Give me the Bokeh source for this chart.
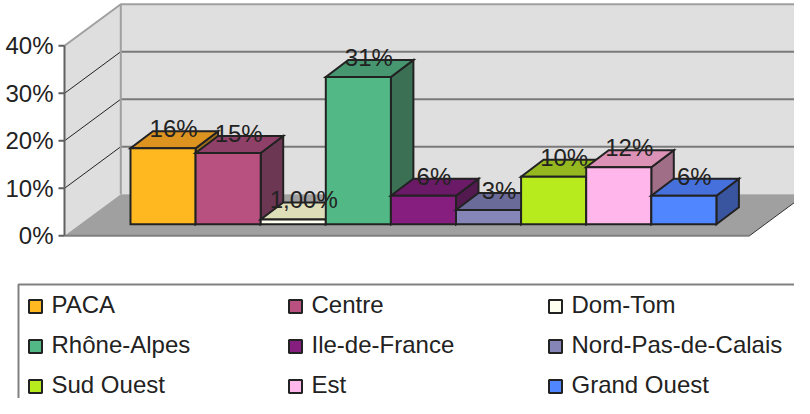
from bokeh.plotting import figure
from bokeh.models import Range1d, ColumnDataSource
from bokeh.core.properties import value
from bokeh.embed import file_html
from bokeh.resources import INLINE

# ---------------- data ----------------
regions = ["PACA", "Centre", "Dom-Tom", "Rhône-Alpes", "Ile-de-France",
           "Nord-Pas-de-Calais", "Sud Ouest", "Est", "Grand Ouest"]
shares = [16, 15, 1, 31, 6, 3, 10, 12, 6]
share_labels = ["16%", "15%", "1,00%", "31%", "6%", "3%", "10%", "12%", "6%"]
front_colors = ["#FFB81F", "#B85180", "#FFFFF0", "#52B886", "#861E80",
                "#8585B8", "#B8EB1E", "#FFB6EB", "#5086FF"]
top_colors = ["#DC9320", "#8F4068", "#DEDEB8", "#469670", "#6A1A66",
              "#6B6B99", "#96B81F", "#DC91B6", "#4670DB"]
side_colors = ["#A0701A", "#6B3753", "#B0B090", "#3B7055", "#521A4F",
               "#555577", "#6E8A1E", "#A06E86", "#3A55A0"]
ticks = [0, 10, 20, 30, 40]
tick_labels = ["0%", "10%", "20%", "30%", "40%"]

FONT = "Liberation Sans"
TXT = "#222222"

# ---------------- geometry ----------------
W, H = 794, 398
PX = 65.1          # px per category slot
PY = 4.75          # px per percent
ZERO_Y = 235.3     # px from top where 0% of the axis lies
X0 = 130.0         # px from left where the first bar starts
x_start = -X0 / PX
x_end = x_start + W / PX
y_end = ZERO_Y / PY
y_start = (ZERO_Y - H) / PY

BASE = 11.6 / PY                    # bars' front plane offset
BDX, BDY = 22.5 / PX, 17.0 / PY     # bar depth
WDX, WDY = 56.3 / PX, 41.6 / PY     # wall depth
xl = -66.0 / PX                     # front edge of the left wall (axis)
xb = xl + WDX
FLOOR_R = len(regions) + 33.0 / PX

p = figure(width=W, height=H, output_backend="svg", toolbar_location=None,
           x_range=Range1d(x_start, x_end), y_range=Range1d(y_start, y_end),
           x_axis_location=None, y_axis_location=None, min_border=0)
p.extra_x_ranges = {"px": Range1d(0, W)}
p.extra_y_ranges = {"px": Range1d(H, 0)}
p.outline_line_color = None
p.xgrid.visible = False
p.ygrid.visible = False

# walls and floor
p.patch([xl, xl, xb, xb], [0, 40, 40 + WDY, WDY], fill_color="#DEDEDE", line_color=None)
p.quad(left=[xb], right=[x_end + 1], bottom=[WDY], top=[40 + WDY],
       fill_color="#DFDFDF", line_color=None)
p.patch([xl, FLOOR_R, FLOOR_R + WDX, xb], [0, 0, WDY, WDY],
        fill_color="#A0A0A0", line_color=None)
grid_t = [t for t in ticks if 0 < t < 40]
p.segment(x0=[xb] * len(grid_t), y0=[t + WDY for t in grid_t],
          x1=[x_end + 1] * len(grid_t), y1=[t + WDY for t in grid_t],
          line_color="#7A7A7A", line_width=2)
p.segment(x0=[xl] * len(grid_t), y0=grid_t, x1=[xb] * len(grid_t),
          y1=[t + WDY for t in grid_t], line_color="#222222", line_width=1)
p.line([xl, xb, x_end + 1], [40, 40 + WDY, 40 + WDY], line_color="#A0A0A0", line_width=2)
p.line([xb, xb], [WDY, 40 + WDY], line_color="#A0A0A0", line_width=2)
p.line([xl, FLOOR_R], [0, 0], line_color="#808080", line_width=2)
p.line([FLOOR_R, FLOOR_R + WDX], [0, WDY], line_color="#333333", line_width=1)

# value axis (drawn on the wall's front edge)
p.line([xl, xl], [ticks[0], ticks[-1]], line_color="#606060", line_width=2)
p.segment(x0=[xl - 6.0 / PX] * len(ticks), y0=ticks, x1=[xl] * len(ticks), y1=ticks,
          line_color="#606060", line_width=2)
p.text(x=[xl - 11.0 / PX] * len(ticks), y=ticks, text=tick_labels,
       text_align="right", text_baseline="middle", text_font=value(FONT),
       text_font_size="24px", text_color=TXT)

# bars (painter's order: left to right, side -> top -> front)
xs, ys, cols = [], [], []
for i, v in enumerate(shares):
    x0, x1 = i, i + 1
    y0, y1 = BASE, BASE + v
    xs.append([x1, x1 + BDX, x1 + BDX, x1]); ys.append([y0, y0 + BDY, y1 + BDY, y1]); cols.append(side_colors[i])
    xs.append([x0, x1, x1 + BDX, x0 + BDX]); ys.append([y1, y1, y1 + BDY, y1 + BDY]); cols.append(top_colors[i])
    xs.append([x0, x1, x1, x0]); ys.append([y0, y0, y1, y1]); cols.append(front_colors[i])
p.patches(xs="xs", ys="ys", fill_color="c", line_color="#222222", line_width=2,
          line_join="miter", source=ColumnDataSource(dict(xs=xs, ys=ys, c=cols)))

# data labels
lab = ColumnDataSource(dict(
    x=[i + 0.5 + 10.5 / PX for i in range(len(shares))],
    y=[BASE + v + 19.5 / PY for v in shares],
    t=share_labels))
p.text(x="x", y="y", text="t", source=lab, text_align="center",
       text_baseline="middle", text_font=value(FONT), text_font_size="24px",
       text_color=TXT)

# legend (pixel coordinates through the "px" ranges)
p.quad(left=[18], right=[798], top=[284], bottom=[H + 10],
       fill_color=None, line_color="#808080", line_width=2,
       x_range_name="px", y_range_name="px")
sx = [28 + (i % 3) * 260 for i in range(len(regions))]
sy = [306 + (i // 3) * 40 for i in range(len(regions))]
p.rect(x=[x + 7 for x in sx], y=sy, width=13, height=13, fill_color=front_colors,
       line_color="#222222", line_width=2, x_range_name="px", y_range_name="px")
p.text(x=[x + 23 for x in sx], y=[y - 2.5 for y in sy], text=regions,
       text_align="left", text_baseline="middle", text_font=value(FONT),
       text_font_size="24px", text_color=TXT, x_range_name="px", y_range_name="px")

open("out.html", "w").write(file_html(p, INLINE))
